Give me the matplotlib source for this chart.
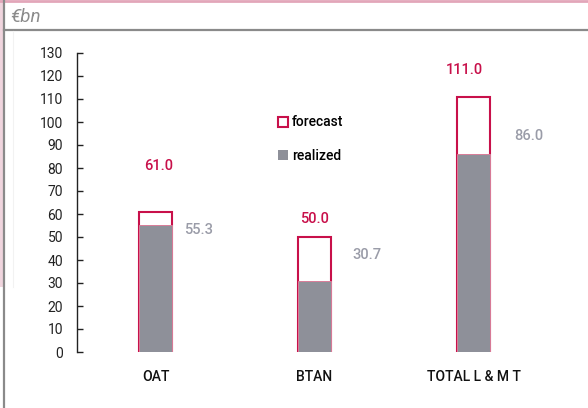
import matplotlib.pyplot as plt
from matplotlib.patches import Rectangle, Patch
from matplotlib.lines import Line2D

plt.rcParams['font.family'] = ['Roboto', 'DejaVu Sans']

# issuance programme, € billions
categories = ['OAT', 'BTAN', 'TOTAL L & M T']
forecast = [61.0, 50.0, 111.0]
realized = [55.3, 30.7, 86.0]

# where the value labels sit (x offset in bar units, y in data units)
fc_lab_dx = [0.02, 0.0, -0.06]
fc_lab_y = [81, 58, 122.5]
re_lab_dx = [0.27, 0.33, 0.35]
re_lab_y = [53, 42, 94]

crimson = '#c8104a'
grey = '#8e9099'
grey_txt = '#9a9ca8'

W, H = 588, 408
fig = plt.figure(figsize=(W / 100, H / 100), dpi=100)

def fx(px):
    return px / W

def fy(py):
    return 1 - py / H

# frame decorations
fig.add_artist(Rectangle((0, fy(287)), fx(3), fy(0) - fy(287), transform=fig.transFigure,
                         facecolor='#f0d5de', edgecolor='none'))
fig.add_artist(Line2D([0, 1], [fy(1), fy(1)], transform=fig.transFigure, color='#e2a6b9', lw=2))
fig.add_artist(Line2D([fx(4), fx(4)], [0, 1], transform=fig.transFigure, color='#8a8a8a', lw=1.6))
fig.add_artist(Line2D([fx(4), 1], [fy(30), fy(30)], transform=fig.transFigure, color='#8a8a8a', lw=1.6))
fig.add_artist(Line2D([fx(12.5), fx(12.5)], [fy(31), fy(287)], transform=fig.transFigure,
                      color='#f2f2f2', lw=0.8))
fig.text(fx(10), fy(17), '€bn', fontsize=13.5, style='italic', color='#8c8c8c', va='center', ha='left')

# plot area: y 0..130 spans pixel rows 352..53
ax = fig.add_axes([fx(77), fy(352), fx(560) - fx(77), fy(53) - fy(352)])
x0 = (77 - 155.5) / 159
x1 = (560 - 155.5) / 159
ax.set_xlim(x0, x1)
ax.set_ylim(0, 130)

xs = list(range(len(categories)))
bw = 33 / 159
ax.bar(xs, forecast, width=bw, facecolor='white', edgecolor=crimson, linewidth=1.5, zorder=2)
ax.bar(xs, realized, width=bw, facecolor=grey, edgecolor='#d97c98', linewidth=0.7, zorder=3)

for i in xs:
    ax.text(i + fc_lab_dx[i], fc_lab_y[i], f'{forecast[i]:.1f}', color=crimson, fontsize=10.5,
            fontweight='medium', ha='center', va='center')
    ax.text(i + re_lab_dx[i], re_lab_y[i], f'{realized[i]:.1f}', color=grey_txt, fontsize=10.5,
            fontweight='medium', ha='center', va='center')

for s in ['top', 'right', 'bottom']:
    ax.spines[s].set_visible(False)
ax.spines['left'].set_color('#222222')
ax.spines['left'].set_linewidth(1.0)

ax.set_yticks(range(0, 131, 10))
ax.tick_params(axis='y', direction='in', length=4, width=1.0, pad=10, labelsize=10, colors='#222222')
ax.set_xticks(xs)
ax.set_xticklabels(categories, fontweight='medium')
ax.tick_params(axis='x', length=0, pad=13, labelsize=10, colors='#111111')

handles = [Patch(facecolor='white', edgecolor=crimson, linewidth=1.5),
           Patch(facecolor=grey, edgecolor='none')]
fig.legend(handles, ['forecast', 'realized'], loc='upper left', bbox_to_anchor=(fx(265), fy(103)),
           frameon=False, handlelength=0.75, handleheight=0.75, handletextpad=0.3,
           labelspacing=1.4, prop={'size': 10, 'weight': 'medium'})

fig.savefig('out.png', dpi=100)
